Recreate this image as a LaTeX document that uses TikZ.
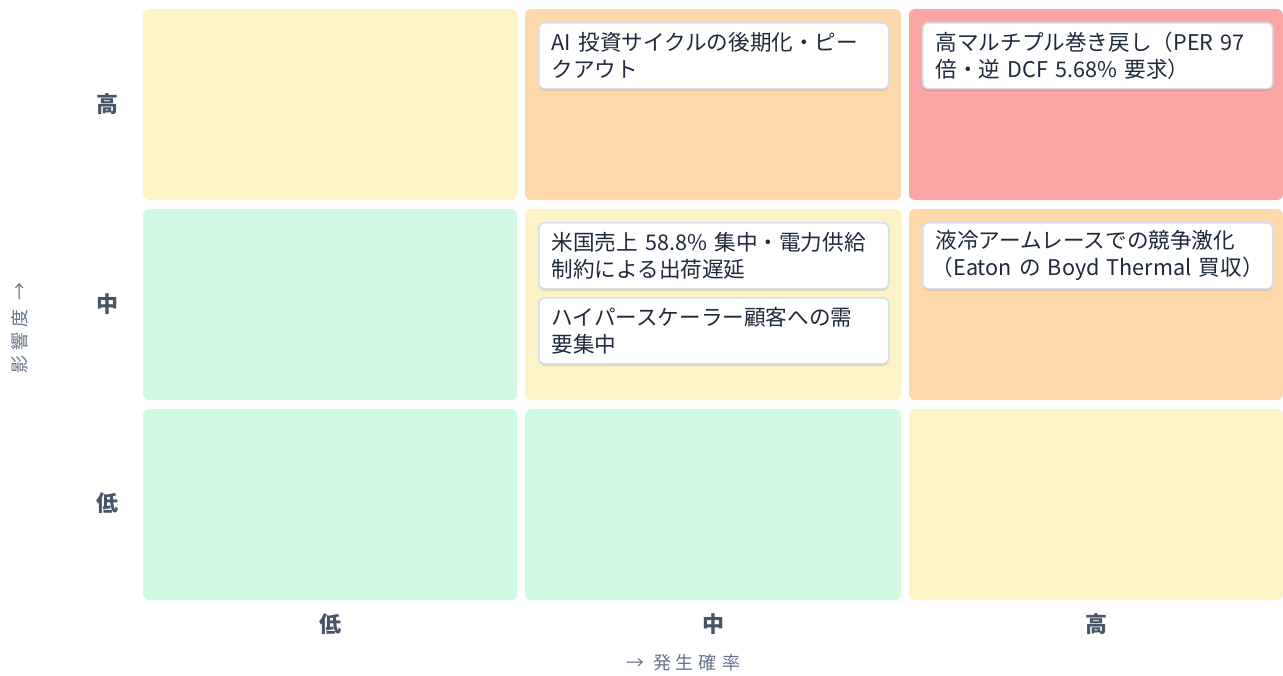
\documentclass[tikz,border=0pt]{standalone}
\usepackage{fontspec}
\setmainfont{Noto Sans CJK JP}
\usetikzlibrary{shadows}
\definecolor{cyellow}{HTML}{FEF3C7}
\definecolor{corange}{HTML}{FED7AA}
\definecolor{cred}{HTML}{FCA5A5}
\definecolor{cgreen}{HTML}{D1FAE5}
\definecolor{ctext}{HTML}{1E293B}
\definecolor{clabel}{HTML}{475569}
\definecolor{caxis}{HTML}{64748B}
\definecolor{cborder}{HTML}{D5DEEA}
\tikzset{
  cell/.style={rounded corners=6pt, draw=none},
  card/.style={draw=cborder, line width=1.5pt, fill=white, rounded corners=6pt,
    drop shadow={shadow xshift=0pt, shadow yshift=-2pt, opacity=0.12, fill=black},
    anchor=north west, minimum width=350pt, minimum height=66pt, text width=324pt,
    inner xsep=13pt, inner ysep=0pt, align=left, text=ctext,
    font=\fontsize{21.6}{27}\selectfont},
  rowlab/.style={text=clabel, font=\fontsize{22}{26}\selectfont\bfseries},
  axislab/.style={text=caxis, font=\fontsize{18}{22}\selectfont}
}
\begin{document}
\begin{tikzpicture}[x=1pt, y=-1pt]
\useasboundingbox (0,0) rectangle (1283,675);
% cells: row high
\fill[cell, cyellow] (143,9) rectangle (517,200);
\fill[cell, corange] (525,9) rectangle (901,200);
\fill[cell, cred] (909,9) rectangle (1283,200);
% row mid
\fill[cell, cgreen] (143,209) rectangle (517,400);
\fill[cell, cyellow] (525,209) rectangle (901,400);
\fill[cell, corange] (909,209) rectangle (1283,400);
% row low
\fill[cell, cgreen] (143,409) rectangle (517,600);
\fill[cell, cgreen] (525,409) rectangle (901,600);
\fill[cell, cyellow] (909,409) rectangle (1283,600);
% cards
\node[card] (c1) at (538,22) {AI 投資サイクルの後期化・ピー\\クアウト};
\node[card] (c2) at (922,22) {高マルチプル巻き戻し（PER 97\\倍・逆 DCF 5.68\% 要求）};
\node[card] (c3) at (538,222) {米国売上 58.8\% 集中・電力供給\\制約による出荷遅延};
\node[card] (c4) at (538,297) {ハイパースケーラー顧客への需\\要集中};
\node[card] (c5) at (922,222) {液冷アームレースでの競争激化\\\hspace*{-4pt}\mbox{（Eaton の Boyd Thermal 買収）}};
% row labels
\node[rowlab] (r1) at (107,104) {高};
\node[rowlab] (r2) at (107,304) {中};
\node[rowlab] (r3) at (107,503) {低};
% column labels
\node[rowlab] (k1) at (330,624) {低};
\node[rowlab] (k2) at (713,624) {中};
\node[rowlab] (k3) at (1096,624) {高};
% axis labels
\node[axislab] (ax) at (683,663) {→\hspace{9pt}発\hspace{5pt}生\hspace{5pt}確\hspace{5pt}率};
\node[axislab, rotate=90] (ay) at (20,328) {影\hspace{5pt}響\hspace{5pt}度\hspace{9pt}→};
\end{tikzpicture}
\end{document}
